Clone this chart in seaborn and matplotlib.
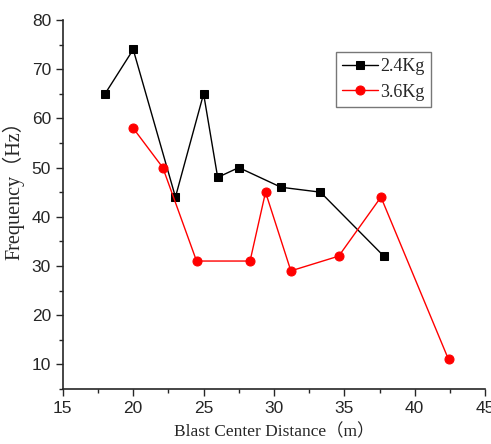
import pandas as pd
import matplotlib.pyplot as plt
import seaborn as sns
from matplotlib.ticker import MultipleLocator

# 数据
dist_24 = [18.0, 20.0, 23.0, 25.0, 26.0, 27.5, 30.5, 33.3, 37.8]
freq_24 = [65, 74, 44, 65, 48, 50, 46, 45, 32]
dist_36 = [20.0, 22.1, 24.5, 28.3, 29.4, 31.2, 34.6, 37.6, 42.4]
freq_36 = [58, 50, 31, 31, 45, 29, 32, 44, 11]

sns.set_style("ticks")
plt.rcParams['font.family'] = ['Liberation Sans', 'DejaVu Sans']
serif_cjk = ['Liberation Serif', 'Noto Sans CJK SC']

df24 = pd.DataFrame({"x": dist_24, "y": freq_24})
df36 = pd.DataFrame({"x": dist_36, "y": freq_36})

fig = plt.figure(figsize=(4.91, 4.44), dpi=100)
ax = fig.add_axes([0.128, 0.124, 0.86, 0.831])

sns.lineplot(data=df24, x="x", y="y", ax=ax, color="black", lw=1,
             marker="s", markersize=5.5, markeredgecolor="black", label="2.4Kg", sort=False)
sns.lineplot(data=df36, x="x", y="y", ax=ax, color="red", lw=1,
             marker="o", markersize=6.5, markeredgecolor="red", label="3.6Kg", sort=False)

ax.set_xlim(15, 45)
ax.set_ylim(5, 80)
ax.xaxis.set_major_locator(MultipleLocator(5))
ax.xaxis.set_minor_locator(MultipleLocator(2.5))
ax.yaxis.set_major_locator(MultipleLocator(10))
ax.yaxis.set_minor_locator(MultipleLocator(5))
ax.tick_params(which="major", direction="out", length=5, width=1, labelsize=12.5)
ax.tick_params(which="minor", direction="out", length=3, width=1)
sns.despine(ax=ax)
for s in ["left", "bottom"]:
    ax.spines[s].set_linewidth(1.2)

ax.set_xlabel("Blast Center Distance（m）", fontsize=12.5, family=serif_cjk, labelpad=1)
ax.xaxis.set_label_coords(0.5, -0.095)
ax.set_ylabel("Frequency（Hz）", fontsize=14.5, family=serif_cjk)
ax.yaxis.set_label_coords(-0.09, 0.55)

leg = ax.legend(loc="upper left", bbox_to_anchor=(0.647, 0.913), frameon=True,
                fancybox=False, edgecolor="#555555", handlelength=2.0,
                handletextpad=0.1, borderpad=0.35, labelspacing=0.45,
                borderaxespad=0, prop={"family": "Liberation Serif", "size": 13})
leg.get_frame().set_linewidth(1)

fig.savefig("out.png", dpi=100)
